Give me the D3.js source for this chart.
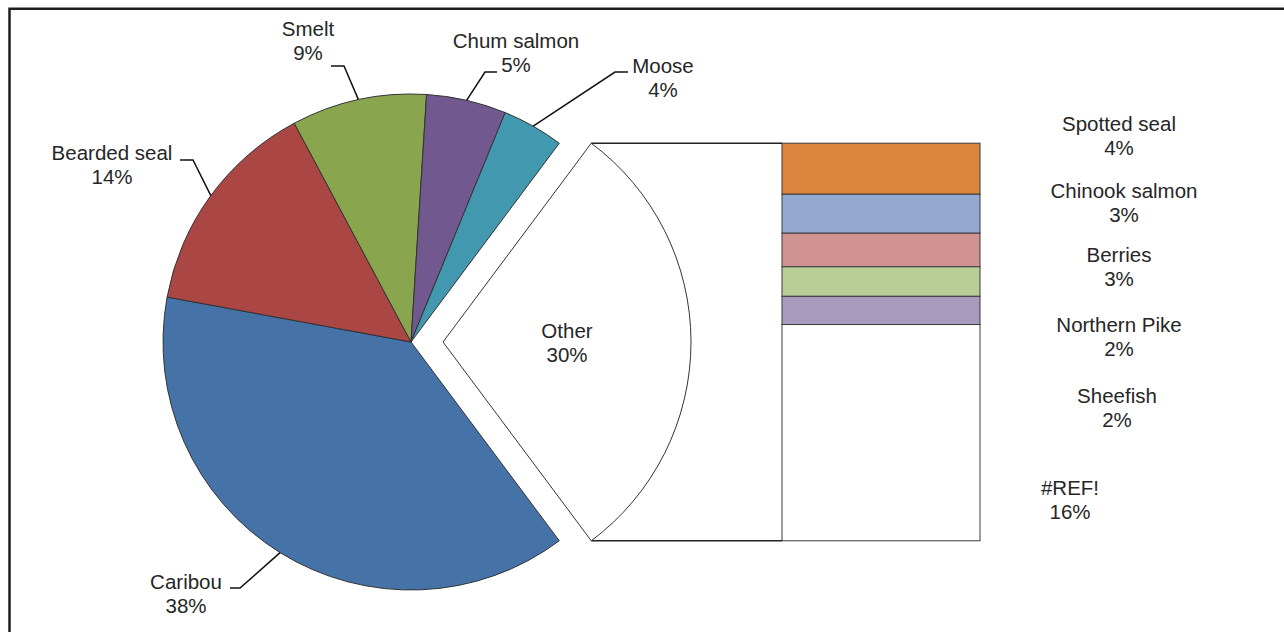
<!DOCTYPE html>
<html>
<head>
<meta charset="utf-8">
<script src="https://cdn.jsdelivr.net/npm/d3@7"></script>
<style>
  html, body { margin: 0; padding: 0; background: #fff; }
  svg { display: block; }
  text { font-family: "Liberation Sans", Arial, sans-serif; font-size: 20.5px; fill: #262626; }
</style>
</head>
<body>
<svg id="chart" width="1284" height="632"></svg>
<script>
// ---- data ----
const pieCategories = ["Caribou", "Bearded seal", "Smelt", "Chum salmon", "Moose"];
const pieValues = [38.1, 14.3, 8.8, 5.2, 4.0];
const otherLabel = "Other";
const barCategories = ["Spotted seal", "Chinook salmon", "Berries", "Northern Pike", "Sheefish", "#REF!"];
const barValues = [3.8, 2.9, 2.5, 2.2, 2.1, 16.1];

// ---- colours ----
const pieColors = ["#4572A7", "#AA4643", "#89A54E", "#71588F", "#4198AF"];
const barColors = ["#DB843D", "#93A9CF", "#D19392", "#B9CD96", "#A99BBD", "#FFFFFF"];

// ---- layout ----
const W = 1284, H = 632;
const cx = 411, cy = 342, R = 248, explode = 32;
const barX0 = 782, barX1 = 980;
const lineGap = 24;
const pieLabelLayout = {
  "Caribou":      { x: 186, y: 589, elbow: [240, 588], end: [230, 588] },
  "Bearded seal": { x: 112, y: 160, elbow: [193, 160], end: [180, 160] },
  "Smelt":        { x: 308, y: 36,  elbow: [344, 66],  end: [331, 66] },
  "Chum salmon":  { x: 516, y: 48,  elbow: [485, 72],  end: [497, 72] },
  "Moose":        { x: 663, y: 73,  elbow: [615, 72],  end: [628, 72] }
};
const barLabelLayout = [[1119, 131], [1124, 198], [1119, 262], [1119, 332], [1117, 403], [1070, 495]];

const fmt = v => Math.round(v) + "%";

const svg = d3.select("#chart");
svg.append("rect").attr("width", W).attr("height", H).attr("fill", "#fff");

// outer frame
svg.append("rect")
  .attr("x", 9.5).attr("y", 8.75).attr("width", 1300).attr("height", 660)
  .attr("fill", "none").attr("stroke", "#1e1e1e").attr("stroke-width", 2.5);

const otherValue = d3.sum(barValues);
const total = d3.sum(pieValues) + otherValue;
const otherAngle = otherValue / total * 2 * Math.PI;
const a0 = Math.PI / 2 - otherAngle / 2;

const pieData = [{ name: otherLabel, value: otherValue, other: true }]
  .concat(pieCategories.map((c, i) => ({ name: c, value: pieValues[i], color: pieColors[i] })));

const pie = d3.pie().sort(null).value(d => d.value).startAngle(a0).endAngle(a0 + 2 * Math.PI);
const arcs = pie(pieData);
const arc = d3.arc().innerRadius(0).outerRadius(R);

const g = svg.append("g").attr("transform", `translate(${cx},${cy})`);

arcs.forEach(a => {
  const mid = (a.startAngle + a.endAngle) / 2;
  const dx = a.data.other ? explode * Math.sin(mid) : 0;
  const dy = a.data.other ? -explode * Math.cos(mid) : 0;
  g.append("path")
    .attr("d", arc(a))
    .attr("transform", `translate(${dx},${dy})`)
    .attr("fill", a.data.other ? "#fff" : a.data.color)
    .attr("stroke", "#333").attr("stroke-width", 1).attr("stroke-linejoin", "round");
});

// bar of pie
const otherArc = arcs[0];
const ox = cx + explode * Math.sin((otherArc.startAngle + otherArc.endAngle) / 2);
const oy = cy - explode * Math.cos((otherArc.startAngle + otherArc.endAngle) / 2);
const topPt = [ox + R * Math.sin(otherArc.startAngle), oy - R * Math.cos(otherArc.startAngle)];
const botPt = [ox + R * Math.sin(otherArc.endAngle), oy - R * Math.cos(otherArc.endAngle)];

const y = d3.scaleLinear().domain([0, otherValue]).range([topPt[1], botPt[1]]);
const cum = d3.cumsum(barValues);
barValues.forEach((v, i) => {
  const s = cum[i] - v;
  svg.append("rect")
    .attr("x", barX0).attr("width", barX1 - barX0)
    .attr("y", y(s)).attr("height", y(cum[i]) - y(s))
    .attr("fill", barColors[i])
    .attr("stroke", "#3a3a3a").attr("stroke-width", 1);
});

// connector lines
[topPt, botPt].forEach(p => {
  svg.append("line")
    .attr("x1", p[0]).attr("y1", p[1]).attr("x2", barX0).attr("y2", p[1])
    .attr("stroke", "#222").attr("stroke-width", 1.5);
});

// pie labels with leader lines
arcs.forEach(a => {
  if (a.data.other) return;
  const L = pieLabelLayout[a.data.name];
  const mid = (a.startAngle + a.endAngle) / 2;
  const px = cx + R * Math.sin(mid), py = cy - R * Math.cos(mid);
  svg.append("polyline")
    .attr("points", [[px, py], L.elbow, L.end].map(p => p.join(",")).join(" "))
    .attr("fill", "none").attr("stroke", "#111").attr("stroke-width", 1.5);
  const t = svg.append("text").attr("text-anchor", "middle");
  t.append("tspan").attr("x", L.x).attr("y", L.y).text(a.data.name);
  t.append("tspan").attr("x", L.x).attr("y", L.y + lineGap).text(fmt(a.value));
});

// Other label
{
  const mid = (otherArc.startAngle + otherArc.endAngle) / 2;
  const lx = ox + R / 2 * Math.sin(mid), ly = oy - R / 2 * Math.cos(mid);
  const t = svg.append("text").attr("text-anchor", "middle");
  t.append("tspan").attr("x", lx).attr("y", ly - 4).text(otherLabel);
  t.append("tspan").attr("x", lx).attr("y", ly - 4 + lineGap).text(fmt(otherValue));
}

// bar labels
barCategories.forEach((c, i) => {
  const [lx, ly] = barLabelLayout[i];
  const t = svg.append("text").attr("text-anchor", "middle");
  t.append("tspan").attr("x", lx).attr("y", ly).text(c);
  t.append("tspan").attr("x", lx).attr("y", ly + lineGap).text(fmt(barValues[i]));
});
</script>
</body>
</html>
